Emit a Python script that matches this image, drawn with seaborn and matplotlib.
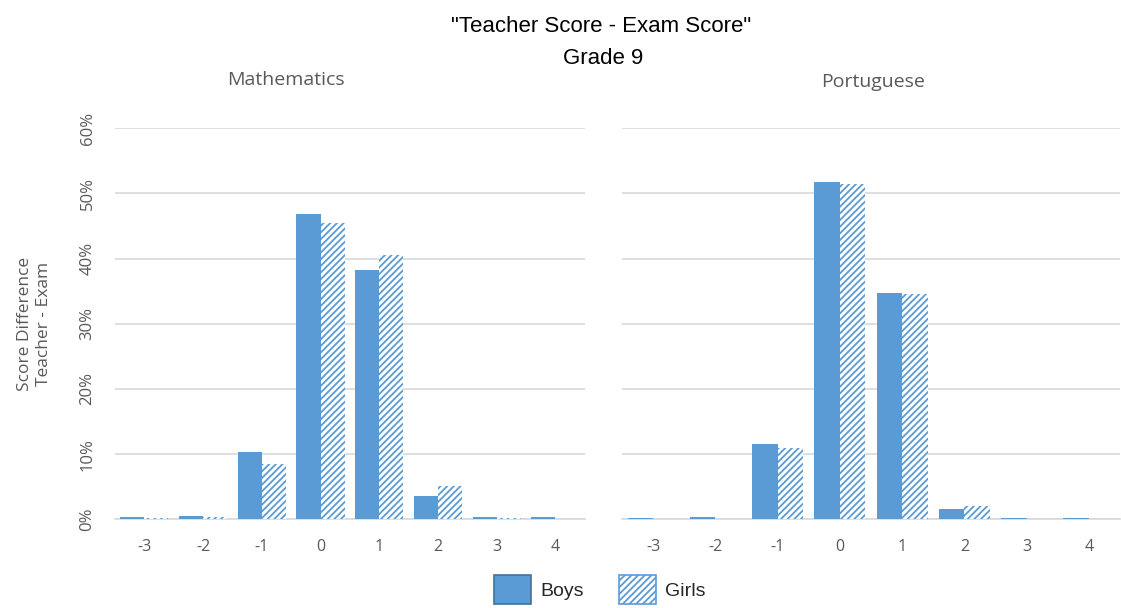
import pandas as pd
import numpy as np
import matplotlib
matplotlib.use("Agg")
import matplotlib.pyplot as plt
import seaborn as sns
from matplotlib.patches import Patch

# data (percent)
diffs = ["-3", "-2", "-1", "0", "1", "2", "3", "4"]
math_boys = [0.3, 0.5, 10.3, 46.9, 38.3, 3.5, 0.3, 0.3]
math_girls = [0.2, 0.4, 8.4, 45.4, 40.5, 5.1, 0.2, 0.0]
port_boys = [0.2, 0.4, 11.6, 51.8, 34.7, 1.5, 0.2, 0.2]
port_girls = [0.1, 0.1, 11.0, 51.4, 34.6, 2.0, 0.1, 0.1]

blue = "#5B9BD5"
grey_txt = "#595959"

sns.set_style("white")
plt.rcParams["font.family"] = ["Open Sans", "DejaVu Sans"]
plt.rcParams["hatch.linewidth"] = 1.3
plt.rcParams["hatch.color"] = blue

fig = plt.figure(figsize=(11.21, 6.08), dpi=100)
ax1 = fig.add_axes([0.1026, 0.146, 0.419, 0.643])
ax2 = fig.add_axes([0.555, 0.146, 0.444, 0.643])


def make_df(boys, girls):
    return pd.DataFrame({
        "diff": diffs * 2,
        "value": [v / 100 for v in boys] + [v / 100 for v in girls],
        "gender": ["Boys"] * len(diffs) + ["Girls"] * len(diffs),
    })


for ax, boys, girls in [(ax1, math_boys, math_girls),
                        (ax2, port_boys, port_girls)]:
    df = make_df(boys, girls)
    sns.barplot(data=df, x="diff", y="value", hue="gender", order=diffs,
                palette=[blue, blue], width=0.82, ax=ax, legend=False,
                saturation=1, zorder=3)
    # girls bars: white with blue diagonal hatch
    for p in ax.patches[len(diffs):]:
        p.set_facecolor("white")
        p.set_edgecolor(blue)
        p.set_hatch("/////")
        p.set_linewidth(0)
    for p in ax.patches[:len(diffs)]:
        p.set_linewidth(0)
    ax.set_ylim(0, 0.6)
    ax.set_xlim(-0.5, 7.5)
    ax.set_yticks(np.arange(0, 0.61, 0.1))
    ax.yaxis.grid(True, color="#d9d9d9", linewidth=1.2, zorder=0)
    ax.set_axisbelow(True)
    for s in ["top", "right", "left"]:
        ax.spines[s].set_visible(False)
    ax.spines["bottom"].set_color("#d9d9d9")
    ax.spines["bottom"].set_linewidth(1.2)
    ax.set_xlabel("")
    ax.set_ylabel("")
    ax.tick_params(axis="x", length=0, pad=14, labelsize=11.5, labelcolor=grey_txt)
    ax.tick_params(axis="y", length=0)

# panel titles (centred on each chart area, as in the original)
fig.text(286 / 1121, 1 - 80 / 608, "Mathematics", ha="center", va="center",
         fontsize=14, color=grey_txt)
fig.text(873 / 1121, 1 - 82 / 608, "Portuguese", ha="center", va="center",
         fontsize=14, color=grey_txt)

ax1.set_yticklabels([f"{int(t * 100)}%" for t in ax1.get_yticks()],
                    rotation=90, va="center", fontsize=12, color=grey_txt)
ax1.tick_params(axis="y", pad=14)
ax2.set_yticklabels([])

ax1.set_ylabel("Score Difference\nTeacher - Exam", fontsize=12.5,
               color=grey_txt, labelpad=20)

fig.text(601 / 1121, 1 - 27 / 608, '"Teacher Score - Exam Score"', ha="center", va="center",
         fontsize=16, color="black", family=["Liberation Sans", "DejaVu Sans"])
fig.text(603 / 1121, 1 - 58 / 608, "Grade 9", ha="center", va="center",
         fontsize=16, color="black", family=["Liberation Sans", "DejaVu Sans"])

handles = [Patch(facecolor=blue, edgecolor="#41719C", linewidth=1.2, label="Boys"),
           Patch(facecolor="white", edgecolor=blue, hatch="/////", linewidth=1.2, label="Girls")]
fig.legend(handles=handles, loc="center", bbox_to_anchor=(0.535, 0.03), ncol=2,
           frameon=False, handlelength=1.9, handleheight=1.9,
           handletextpad=0.5, columnspacing=1.8,
           prop={"family": ["Liberation Sans", "DejaVu Sans"], "size": 14})

fig.savefig("out.png", dpi=100)
